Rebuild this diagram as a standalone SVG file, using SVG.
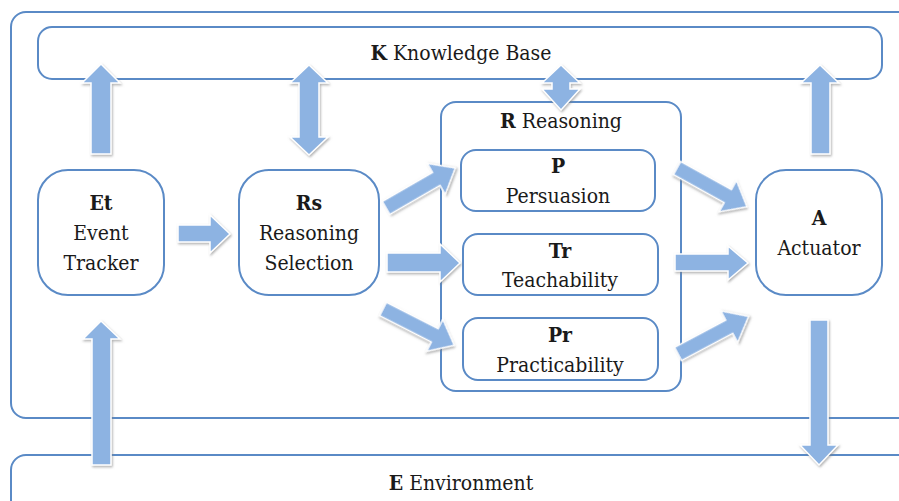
<svg xmlns="http://www.w3.org/2000/svg" width="899" height="501" viewBox="0 0 899 501">
<style>
.box{fill:#ffffff;stroke:#5a8ac6;stroke-width:2}
.arr{fill:#8db3e2;stroke:#ffffff;stroke-width:1.5;filter:url(#sh)}
.t{font-family:'DejaVu Serif Condensed','DejaVu Serif',serif;font-stretch:condensed;font-size:21px;fill:#1a1a1a;text-anchor:middle;font-weight:normal}
.b{font-weight:bold}
</style>
<defs>
<filter id="sh" x="-20%" y="-20%" width="140%" height="140%">
<feDropShadow dx="1" dy="1.5" stdDeviation="1" flood-color="#7f7f7f" flood-opacity="0.6"/>
</filter>
<polygon id="diag" points="0,-7.5 58,-7.5 58,-18 80,0 58,18 58,7.5 0,7.5"/>
</defs>
<rect width="899" height="501" fill="#ffffff"/>
<g id="system"><rect class="box" x="11" y="12" width="910" height="406" rx="15"/></g>
<g id="knowledge-base"><rect class="box" x="38" y="27" width="844" height="52" rx="14"/>
<text class="t" x="461" y="60"><tspan class="b">K</tspan> Knowledge Base</text></g>
<g id="environment"><rect class="box" x="11" y="455" width="910" height="70" rx="15"/>
<text class="t" x="461" y="490"><tspan class="b">E</tspan> Environment</text></g>
<g id="event-tracker"><rect class="box" x="38" y="170" width="126" height="125" rx="30"/>
<text class="t b" x="101" y="210">Et</text><text class="t" x="101" y="240">Event</text><text class="t" x="101" y="270">Tracker</text></g>
<g id="reasoning-selection"><rect class="box" x="239" y="170" width="140" height="125" rx="30"/>
<text class="t b" x="309" y="210">Rs</text><text class="t" x="309" y="240">Reasoning</text><text class="t" x="309" y="270">Selection</text></g>
<g id="reasoning"><rect class="box" x="441" y="102" width="240" height="289" rx="15"/>
<text class="t" x="561" y="128"><tspan class="b">R</tspan> Reasoning</text></g>
<g id="persuasion"><rect class="box" x="461" y="150" width="194" height="61" rx="15"/>
<text class="t b" x="558" y="173">P</text><text class="t" x="558" y="203">Persuasion</text></g>
<g id="teachability"><rect class="box" x="463" y="234" width="195" height="61" rx="15"/>
<text class="t b" x="560" y="258">Tr</text><text class="t" x="560" y="287">Teachability</text></g>
<g id="practicability"><rect class="box" x="463" y="318" width="195" height="62" rx="15"/>
<text class="t b" x="560" y="342">Pr</text><text class="t" x="560" y="372">Practicability</text></g>
<g id="actuator"><rect class="box" x="756" y="170" width="126" height="125" rx="30"/>
<text class="t b" x="819" y="225">A</text><text class="t" x="819" y="255">Actuator</text></g>
<g id="connectors">
<polygon class="arr" points="101,64 120,83 111,83 111,154 91,154 91,83 82,83"/>
<polygon class="arr" points="309,65 328,83 319,83 319,137 328,137 309,155 290,137 299,137 299,83 290,83"/>
<polygon class="arr" points="561,65 580,83 570,83 570,89 580,89 561,110 542,89 552,89 552,83 542,83"/>
<polygon class="arr" points="820,65 839,83 830,83 830,154 811,154 811,83 801,83"/>
<polygon class="arr" points="178,225 210,225 210,215 230,234 210,253 210,242 178,242"/>
<polygon class="arr" points="387,253 440,253 440,244 460,263 440,282 440,272 387,272"/>
<polygon class="arr" points="675,254 728,254 728,246 748,263 728,280 728,271 675,271"/>
<polygon class="arr" points="810,320 828,320 828,445 838,445 819,465 800,445 810,445"/>
<polygon class="arr" points="101,321 120,339 111,339 111,465 92,465 92,339 83,339"/>
<use href="#diag" class="arr" transform="translate(386,208) rotate(-30)"/>
<use href="#diag" class="arr" transform="translate(383,309) rotate(27)"/>
<use href="#diag" class="arr" transform="translate(677,168) rotate(29)"/>
<use href="#diag" class="arr" transform="translate(678,354) rotate(-28)"/>
</g>
</svg>
